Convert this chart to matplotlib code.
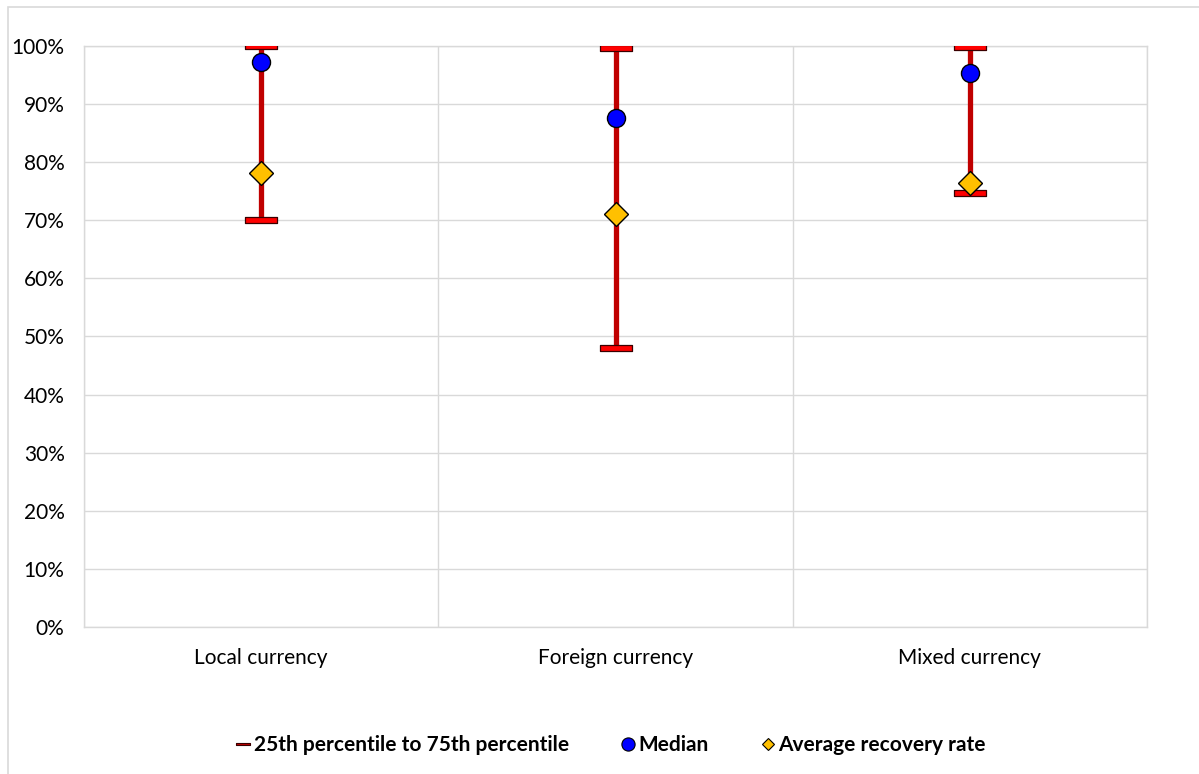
import matplotlib
matplotlib.use("Agg")
import matplotlib.pyplot as plt
from matplotlib.path import Path
from matplotlib.lines import Line2D
from matplotlib.patches import Rectangle
from matplotlib.ticker import MultipleLocator, FuncFormatter

plt.rcParams['font.family'] = ['Lato', 'DejaVu Sans']

categories = ["Local currency", "Foreign currency", "Mixed currency"]
p25 = [0.700, 0.480, 0.747]
p75 = [1.000, 0.997, 0.999]
median = [0.972, 0.876, 0.954]
average = [0.781, 0.711, 0.764]

W, H = 1199, 774
fig = plt.figure(figsize=(W / 100, H / 100), dpi=100)
ax = fig.add_axes([84 / W, 1 - 627 / H, (1147 - 84) / W, (627 - 46) / H])

# outer chart-area border
fig.patches.append(Rectangle((8 / W, -0.1), 1.2, 1 - 7 / H + 0.1,
                             transform=fig.transFigure, fill=False,
                             edgecolor="#D9D9D9", linewidth=1.2, zorder=0))

x = [i + 0.5 for i in range(len(categories))]

# flat bar-shaped cap marker
cap_marker = Path([(-1, -0.2), (1, -0.2), (1, 0.2), (-1, 0.2), (-1, -0.2)],
                  [Path.MOVETO, Path.LINETO, Path.LINETO, Path.LINETO, Path.CLOSEPOLY])

for xi, lo, hi in zip(x, p25, p75):
    ax.plot([xi, xi], [lo, hi], color="#C00000", linewidth=3.8,
            solid_capstyle="butt", zorder=3)
ax.plot(x, p25, linestyle="none", marker=cap_marker, markersize=23,
        markerfacecolor="#FF0000", markeredgecolor="#3A0000",
        markeredgewidth=0.9, zorder=4)
ax.plot(x, p75, linestyle="none", marker=cap_marker, markersize=23,
        markerfacecolor="#FF0000", markeredgecolor="#3A0000",
        markeredgewidth=0.9, zorder=4)
ax.plot(x, median, linestyle="none", marker="o", markersize=13,
        markerfacecolor="#0000FF", markeredgecolor="black",
        markeredgewidth=1.0, zorder=5)
ax.plot(x, average, linestyle="none", marker="D", markersize=12,
        markerfacecolor="#FFC000", markeredgecolor="black",
        markeredgewidth=1.0, zorder=6)

ax.set_xlim(0, 3)
ax.set_ylim(0, 1)
ax.yaxis.set_major_locator(MultipleLocator(0.1))
ax.yaxis.set_major_formatter(FuncFormatter(lambda v, p: f"{v * 100:.0f}%"))
ax.set_xticks(x)
ax.set_xticklabels(categories)
ax.set_xticks([0, 1, 2, 3], minor=True)
ax.tick_params(axis="both", which="both", length=0, labelsize=15,
               colors="black")
ax.tick_params(axis="y", pad=14)
ax.tick_params(axis="x", pad=15)
ax.grid(axis="y", which="major", color="#D9D9D9", linewidth=1.0, zorder=0)
ax.grid(axis="x", which="minor", color="#D9D9D9", linewidth=1.0, zorder=0)
ax.set_axisbelow(True)
for s in ax.spines.values():
    s.set_color("#D9D9D9")
    s.set_linewidth(1.0)

handles = [
    Line2D([], [], linestyle="none", marker=cap_marker, markersize=9.5,
           markerfacecolor="#C00000", markeredgecolor="#3A0000",
           markeredgewidth=0.8),
    Line2D([], [], linestyle="none", marker="o", markersize=9.5,
           markerfacecolor="#0000FF", markeredgecolor="black",
           markeredgewidth=0.8),
    Line2D([], [], linestyle="none", marker="D", markersize=6.5,
           markerfacecolor="#FFC000", markeredgecolor="black",
           markeredgewidth=0.8),
]
labels = ["25th percentile to 75th percentile", "Median", "Average recovery rate"]
fig.legend(handles, labels, loc="center", bbox_to_anchor=(611 / W, 1 - 745 / H),
           ncol=3, frameon=False, handlelength=0.7, handletextpad=0.15,
           columnspacing=2.5, prop={"weight": "bold", "size": 15})

fig.savefig("out.png", dpi=100)
